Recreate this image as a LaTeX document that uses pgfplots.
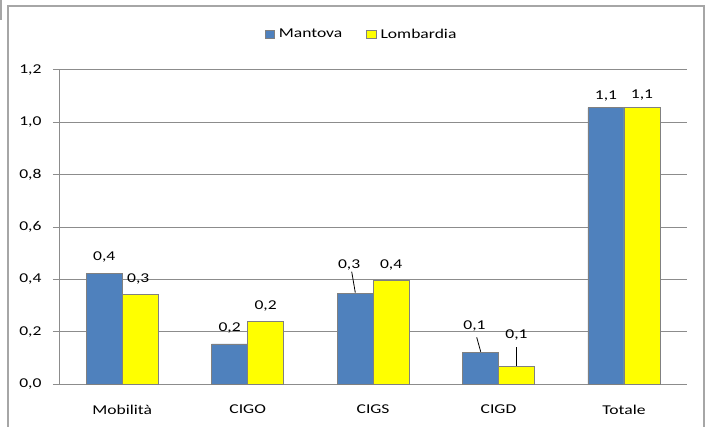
\documentclass[border=0pt]{standalone}
\usepackage{fontspec}
\setmainfont{Carlito}[FakeStretch=1.3]
\usepackage{pgfplots}
\usepackage{pgfplotstable}
\pgfplotsset{compat=1.18}

\definecolor{mantova}{HTML}{4F81BD}
\definecolor{lombardia}{HTML}{FFFF00}
\definecolor{edge}{HTML}{808080}
\definecolor{gridc}{HTML}{8C8C8C}
\definecolor{frame}{HTML}{A6A6A6}

% x = categoria, y = valore, dx/dy = posizione etichetta (pt)
\pgfplotstableread{
x y     dx  dy
0 0.423 0   12.7
1 0.154 0   12.7
2 0.347 -6  24.7
3 0.122 -6  22.7
4 1.055 0   8
}\mantova
\pgfplotstableread{
x y     dx  dy
0 0.341 -2  12.7
1 0.238 0   12.7
2 0.395 0   12.7
3 0.069 0   27.7
4 1.055 0   9.7
}\lombardia

\newcommand\chartfont{\fontsize{13.5}{16}\selectfont}

\begin{document}
\begin{tikzpicture}
\path[use as bounding box] (0pt,0pt) rectangle (714pt,427pt);
\draw[frame, line width=1.6pt] (8pt,-5pt) -- (8pt,421pt) -- (704pt,421pt) -- (704pt,-5pt);
\draw[frame, line width=1.2pt] (1pt,432pt) -- (1pt,407pt);

\begin{axis}[
    at={(59.5pt,42.7pt)}, anchor=south west,
    scale only axis, width=627.2pt, height=314.6pt,
    xmin=-0.5, xmax=4.5, ymin=0, ymax=1.2,
    ybar=0pt, bar width=36pt,
    xtick={0,1,2,3,4},
    xticklabels={Mobilità,CIGO,CIGS,CIGD,Totale},
    ytick={0,0.2,0.4,0.6,0.8,1.0,1.2},
    axis lines*=left,
    axis line style={gridc, line width=0.8pt},
    ymajorgrids, grid style={gridc, line width=0.8pt},
    xtick style={draw=none},
    ytick style={gridc, line width=0.8pt},
    tick align=outside, major tick length=6.5pt,
    /pgf/number format/assume math mode=true,
    yticklabel style={font=\chartfont, xshift=-8pt,
        /pgf/number format/.cd, fixed, fixed zerofill, precision=1, use comma},
    xticklabel style={font=\chartfont, yshift=-10.5pt},
    nodes near coords={\pgfmathprintnumber[fixed,fixed zerofill,precision=1,use comma]{\pgfplotspointmeta}},
    visualization depends on={\thisrow{dx}\as\labdx},
    visualization depends on={\thisrow{dy}\as\labdy},
    every node near coord/.append style={font=\chartfont, black, anchor=base,
        xshift=\labdx pt, yshift=\labdy pt, inner sep=0pt},
    legend style={at={(0.4815,1.1125)}, anchor=center, draw=none, fill=none,
        font=\chartfont, legend columns=2,
        /tikz/every odd column/.append style={column sep=2pt},
        /tikz/every even column/.append style={column sep=22pt}},
    legend image code/.code={\draw[#1, draw=edge, line width=0.8pt] (0pt,-4.3pt) rectangle (9.5pt,4.3pt);},
]
\addplot[fill=mantova, draw=edge, line width=0.8pt] table[x=x, y=y] {\mantova};
\addlegendentry{Mantova}
\addplot[fill=lombardia, draw=edge, line width=0.8pt] table[x=x, y=y] {\lombardia};
\addlegendentry{Lombardia}
\end{axis}

% linee guida delle etichette spostate
\draw[black, line width=0.8pt] (355.3pt,134.3pt) -- (351.7pt,155.3pt);
\draw[black, line width=0.8pt] (480.7pt,75.3pt) -- (476.7pt,89.7pt);
\draw[black, line width=0.8pt] (516.4pt,61pt) -- (516.4pt,80.3pt);
\end{tikzpicture}
\end{document}
